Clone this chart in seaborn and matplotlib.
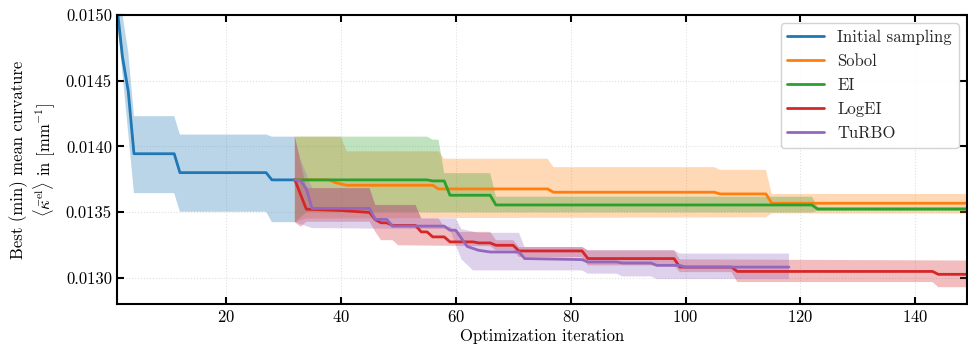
import matplotlib
matplotlib.use("Agg")
import matplotlib.pyplot as plt
import matplotlib.ticker as mticker
import numpy as np
import pandas as pd
import seaborn as sns

# --- data (iteration breakpoints, best mean curvature) ---
init_x = [1, 2, 3, 4, 11, 12, 27, 28, 32]
init_mean = [0.01508, 0.01468, 0.01442, 0.013944, 0.013944, 0.01380, 0.01380, 0.013745, 0.013745]
init_hi = [0.01530, 0.01500, 0.01472, 0.01423, 0.01423, 0.01409, 0.01409, 0.014074, 0.014074]
init_lo = [0.01500, 0.01455, 0.01410, 0.013644, 0.013644, 0.013502, 0.013502, 0.013423, 0.013423]

sobol_x = [32, 38, 39, 41, 56, 57, 76, 77, 105, 106, 114, 115, 149]
sobol_mean = [0.013745, 0.013745, 0.013725, 0.013704, 0.013704, 0.013676, 0.013676,
              0.013651, 0.013651, 0.013638, 0.013638, 0.013567, 0.013567]
sobol_hi_x = [32, 40, 41, 57, 58, 76, 77, 105, 106, 114, 115, 149]
sobol_hi = [0.014074, 0.014074, 0.013962, 0.013962, 0.013906, 0.013906, 0.013842,
            0.013842, 0.013821, 0.013821, 0.013638, 0.013638]
sobol_lo_x = [32, 34, 114, 115, 149]
sobol_lo = [0.013423, 0.013452, 0.013460, 0.013490, 0.013490]

ei_x = [32, 55, 56, 58, 59, 66, 67, 122, 123, 149]
ei_mean = [0.013745, 0.013745, 0.013737, 0.013737, 0.013628, 0.013628, 0.013554,
           0.013554, 0.013523, 0.013523]
ei_hi_x = [32, 55, 56, 57, 58, 66, 67, 122, 123, 149]
ei_hi = [0.014074, 0.014074, 0.014051, 0.014051, 0.013796, 0.013796, 0.013617,
         0.013617, 0.013540, 0.013540]
ei_lo_x = [32, 34, 122, 123, 149]
ei_lo = [0.013423, 0.013498, 0.013498, 0.013508, 0.013508]

logei_x = [32, 34, 40, 45, 46, 47, 48, 49, 53, 54, 55, 56, 58, 59, 63, 64, 66, 67,
           70, 71, 82, 83, 98, 99, 108, 109, 143, 144, 149]
logei_mean = [0.013745, 0.013522, 0.013512, 0.013497, 0.013441, 0.013418, 0.013418,
              0.013398, 0.013398, 0.013349, 0.013349, 0.013311, 0.013311, 0.013273,
              0.013273, 0.013265, 0.013265, 0.013247, 0.013247, 0.013204, 0.013204,
              0.013146, 0.013146, 0.013081, 0.013081, 0.013048, 0.013048, 0.013026,
              0.013026]
logei_hi_x = [32, 33, 34, 45, 46, 53, 54, 57, 58, 59, 60, 66, 67, 70, 71, 82, 83,
              98, 99, 149]
logei_hi = [0.014074, 0.013880, 0.013682, 0.013682, 0.013554, 0.013554, 0.013452,
            0.013452, 0.013388, 0.013388, 0.013349, 0.013349, 0.013286, 0.013286,
            0.013234, 0.013234, 0.013209, 0.013209, 0.013140, 0.013131]
logei_lo_x = [32, 33, 34, 45, 46, 47, 49, 50, 66, 67, 70, 71, 82, 83, 98, 99, 108,
              109, 143, 144, 149]
logei_lo = [0.013423, 0.013388, 0.013426, 0.013426, 0.013350, 0.013286, 0.013286,
            0.013247, 0.013240, 0.013209, 0.013209, 0.013158, 0.013158, 0.013094,
            0.013094, 0.013043, 0.013043, 0.012967, 0.012967, 0.012928, 0.012928]

turbo_x = [32, 33, 34, 35, 45, 46, 48, 49, 58, 59, 60, 62, 64, 66, 71, 72, 82, 83,
           88, 89, 94, 95, 99, 100, 118]
turbo_mean = [0.013745, 0.013737, 0.013676, 0.013528, 0.013528, 0.013444, 0.013444,
              0.013393, 0.013393, 0.013362, 0.013362, 0.013238, 0.013209, 0.013196,
              0.013196, 0.013146, 0.013138, 0.013120, 0.013120, 0.013112, 0.013112,
              0.013094, 0.013094, 0.013081, 0.013081]
turbo_hi_x = [32, 33, 35, 45, 46, 53, 54, 60, 61, 64, 71, 72, 82, 83, 98, 99, 118]
turbo_hi = [0.014074, 0.013900, 0.013682, 0.013682, 0.013554, 0.013554, 0.013452,
            0.013452, 0.013370, 0.013342, 0.013342, 0.013234, 0.013234, 0.013209,
            0.013209, 0.013184, 0.013184]
turbo_lo_x = [32, 35, 59, 60, 61, 63, 82, 83, 88, 89, 94, 95, 118]
turbo_lo = [0.013423, 0.013378, 0.013370, 0.013250, 0.013140, 0.013056, 0.013056,
            0.013031, 0.013031, 0.013010, 0.013010, 0.012990, 0.012990]

methods = ["Initial sampling", "Sobol", "EI", "LogEI", "TuRBO"]
colors = ["#1f77b4", "#ff7f0e", "#2ca02c", "#d62728", "#9467bd"]

series = [
    (init_x, init_mean, init_x, init_hi, init_x, init_lo),
    (sobol_x, sobol_mean, sobol_hi_x, sobol_hi, sobol_lo_x, sobol_lo),
    (ei_x, ei_mean, ei_hi_x, ei_hi, ei_lo_x, ei_lo),
    (logei_x, logei_mean, logei_hi_x, logei_hi, logei_lo_x, logei_lo),
    (turbo_x, turbo_mean, turbo_hi_x, turbo_hi, turbo_lo_x, turbo_lo),
]

sns.set_style("ticks")
plt.rcParams["font.family"] = "serif"
plt.rcParams["font.serif"] = ["cmr10"]
plt.rcParams["mathtext.fontset"] = "cm"
plt.rcParams["axes.formatter.use_mathtext"] = True
plt.rcParams["axes.unicode_minus"] = False

fig, ax = plt.subplots(figsize=(9.68, 3.54), dpi=100)
fig.subplots_adjust(left=0.1206, right=0.999, bottom=0.1412, top=0.9576)

for name, col, (mx, my, hx, hy, lx, ly) in zip(methods, colors, series):
    # band drawn as polygon: upper edge forward, lower edge backward
    px = list(hx) + list(lx)[::-1]
    py = list(hy) + list(ly)[::-1]
    ax.fill(px, py, color=col, alpha=0.3, linewidth=0)
    df = pd.DataFrame({"iteration": mx, "value": my})
    sns.lineplot(data=df, x="iteration", y="value", ax=ax, color=col, linewidth=2,
                 estimator=None, label=name)

ax.set_xlim(1, 149)
ax.set_ylim(0.0128, 0.0150)
ax.set_xticks([20, 40, 60, 80, 100, 120, 140])
ax.set_yticks([0.0130, 0.0135, 0.0140, 0.0145, 0.0150])
ax.yaxis.set_major_formatter(mticker.FormatStrFormatter("%.4f"))
ax.grid(True, linestyle=":", color="#e0e0e0", linewidth=0.8)
ax.tick_params(direction="in", top=True, right=True, length=5, width=1.5,
               labelsize=12, color="black", labelcolor="black")
for sp in ax.spines.values():
    sp.set_linewidth(1.5)
    sp.set_edgecolor("black")

ax.set_xlabel("Optimization iteration", fontsize=12, labelpad=3, color="black")
ax.set_ylabel("Best (min) mean curvature\n"
              r"$\langle \bar{\kappa}^{\mathrm{el}} \rangle$ in [mm$^{-1}$]",
              fontsize=12, labelpad=6, color="black")

ax.legend(loc="upper right", fontsize=12, frameon=True, fancybox=True,
          framealpha=0.85, edgecolor="#cccccc", borderaxespad=0.5,
          handlelength=2.2, labelspacing=0.52)

fig.savefig("out.png", dpi=100)
